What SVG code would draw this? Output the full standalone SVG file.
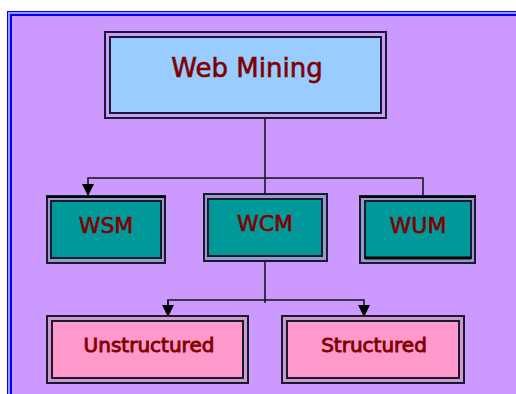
<svg xmlns="http://www.w3.org/2000/svg" width="516" height="394" viewBox="0 0 516 394">
<style>
.lbl{font-family:"DejaVu Sans","Liberation Sans",sans-serif;fill:#800000;text-anchor:middle;stroke:#800000}
.o{fill:none;stroke:#1a1a2e;stroke-width:2}
.i{stroke:#1a1a2e;stroke-width:2}
.c{fill:none;stroke:#111;stroke-width:1.5}
</style>
<defs>
<marker id="ah" markerWidth="12" markerHeight="12" refX="12" refY="6" orient="auto" markerUnits="userSpaceOnUse" viewBox="0 0 12 12">
<path d="M0,0 L12,6 L0,12 Z" fill="#000"/>
</marker>
</defs>
<rect x="0" y="0" width="516" height="394" fill="#fff"/>
<rect x="7.5" y="11.5" width="520" height="400" fill="#9999ff" stroke="#0000ff" stroke-width="1"/>
<rect x="11" y="15" width="520" height="400" fill="#cc99ff" stroke="#0000ff" stroke-width="2"/>
<g id="connectors">
<path class="c" d="M265,118 V194"/>
<path class="c" d="M423,196 V178 H88 V196" marker-end="url(#ah)"/>
<path class="c" d="M265,261 V303"/>
<path class="c" d="M168,317 V300 H364 V317" marker-end="url(#ah)"/>
<path class="c" d="M168,300 V317" marker-end="url(#ah)"/>
</g>
<g id="web-mining">
<rect class="o" x="105" y="32" width="281" height="86"/>
<rect class="i" x="110" y="37" width="271" height="76" fill="#99ccff"/>
<text class="lbl" x="247" y="77" font-size="26" stroke-width="0.6">Web Mining</text>
</g>
<g id="wsm">
<rect class="o" x="47" y="196" width="118" height="67" style="fill:#9999cc"/>
<line x1="46" y1="197" x2="166" y2="197" stroke="#000" stroke-width="2"/>
<rect class="i" x="51" y="201" width="110" height="57" fill="#009999"/>
<text class="lbl" x="106" y="233" font-size="22" stroke-width="0.6">WSM</text>
</g>
<g id="wcm">
<rect class="o" x="204" y="194" width="123" height="67" style="fill:#9999cc"/>
<rect class="i" x="208" y="199" width="114" height="57" fill="#009999"/>
<text class="lbl" x="265" y="231" font-size="22" stroke-width="0.6">WCM</text>
</g>
<g id="wum">
<rect class="o" x="360" y="196" width="115" height="67" style="fill:#9999cc"/>
<line x1="359" y1="197" x2="476" y2="197" stroke="#000" stroke-width="2"/>
<rect class="i" x="365" y="201" width="106" height="57" fill="#009999"/>
<line x1="365" y1="258" x2="471" y2="258" stroke="#000" stroke-width="3"/>
<text class="lbl" x="418" y="233" font-size="22" stroke-width="0.6">WUM</text>
</g>
<g id="unstructured">
<rect class="o" x="47" y="316" width="201" height="67" style="fill:#cc99cc"/>
<rect class="i" x="52" y="321" width="191" height="57" fill="#ff99cc"/>
<text class="lbl" x="149" y="352" font-size="20" stroke-width="0.9">Unstructured</text>
</g>
<g id="structured">
<rect class="o" x="282" y="316" width="182" height="67" style="fill:#cc99cc"/>
<rect class="i" x="287" y="321" width="172" height="57" fill="#ff99cc"/>
<text class="lbl" x="374" y="352" font-size="20" stroke-width="0.9">Structured</text>
</g>
</svg>
